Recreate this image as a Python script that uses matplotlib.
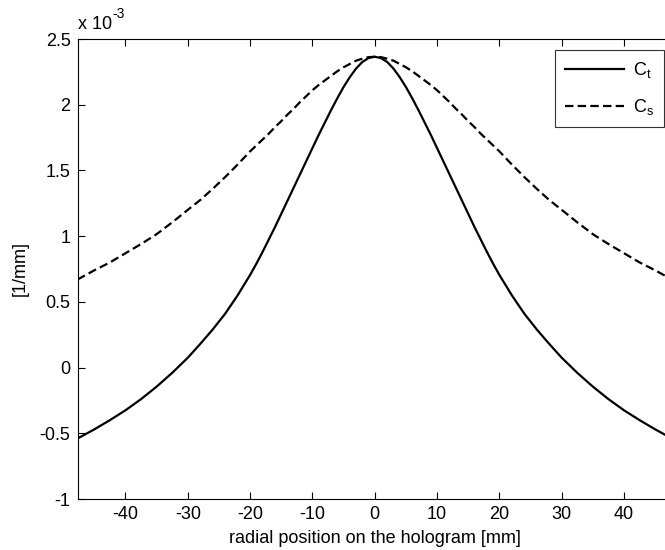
import numpy as np
import matplotlib
matplotlib.use('Agg')
import matplotlib.pyplot as plt

plt.rcParams['font.family'] = ['Liberation Sans', 'DejaVu Sans']
plt.rcParams['axes.unicode_minus'] = False
plt.rcParams['mathtext.fontset'] = 'custom'
plt.rcParams['mathtext.rm'] = 'Liberation Sans'

# radial position [mm] and curvature values [1/mm] (x 1e-3)
pos = [-47.7, -45, -42.5, -40, -37.5, -35, -32.5, -30, -28, -26, -24, -22, -20,
       -19, -18, -17, -16, -15, -14, -13, -12, -11, -10, -9, -8, -7, -6, -5, -4,
       -3, -2, -1, 0, 1, 2, 3, 4, 5, 6, 7, 8, 9, 10, 11, 12, 13, 14, 15, 16, 17,
       18, 19, 20, 22, 24, 26, 28, 30, 32.5, 35, 37.5, 40, 42.5, 45, 47.7]
c_t = [-0.54, -0.47, -0.40, -0.325, -0.24, -0.145, -0.04, 0.075, 0.18, 0.29, 0.41, 0.55, 0.705,
       0.79, 0.88, 0.975, 1.07, 1.17, 1.27, 1.37, 1.47, 1.57, 1.67, 1.77, 1.865, 1.96, 2.05, 2.135, 2.21,
       2.275, 2.325, 2.355, 2.365, 2.355, 2.325, 2.275, 2.21, 2.135, 2.05, 1.96, 1.865, 1.77, 1.67, 1.57, 1.47, 1.37, 1.27, 1.17, 1.07, 0.975,
       0.88, 0.79, 0.705, 0.55, 0.41, 0.29, 0.18, 0.075, -0.04, -0.145, -0.24, -0.325, -0.40, -0.47, -0.54]
c_s = [0.67, 0.74, 0.80, 0.87, 0.94, 1.015, 1.105, 1.20, 1.275, 1.36, 1.45, 1.545, 1.645,
       1.69, 1.735, 1.78, 1.83, 1.875, 1.925, 1.97, 2.02, 2.065, 2.11, 2.15, 2.185, 2.22, 2.255, 2.285, 2.31,
       2.335, 2.35, 2.362, 2.365, 2.362, 2.35, 2.335, 2.31, 2.285, 2.255, 2.22, 2.185, 2.15, 2.11, 2.065, 2.02, 1.97, 1.925, 1.875, 1.83, 1.78,
       1.735, 1.69, 1.645, 1.545, 1.45, 1.36, 1.275, 1.20, 1.105, 1.015, 0.94, 0.87, 0.80, 0.74, 0.67]

x = np.array(pos)
yt = np.array(c_t) * 1e-3
ys = np.array(c_s) * 1e-3

fig = plt.figure(figsize=(6.65, 5.5), dpi=100)
# axes runs a bit past the right edge of the picture (cropped like the original)
ax = fig.add_axes([77.5 / 665, 51 / 550, (672 - 77.5) / 665, (499 - 39) / 550])

ax.plot(x, yt, color='black', lw=1.6, label=r'C$_\mathrm{t}$')
ax.plot(x, ys, color='black', lw=1.6, dashes=(3.8, 1.9), label=r'C$_\mathrm{s}$')

ax.set_xlim(-47.7, 47.7)
ax.set_ylim(-1e-3, 2.5e-3)
ax.set_xticks([-40, -30, -20, -10, 0, 10, 20, 30, 40])
yticks = [-1, -0.5, 0, 0.5, 1, 1.5, 2, 2.5]
ax.set_yticks([v * 1e-3 for v in yticks])
ax.set_yticklabels(['%g' % v for v in yticks])
ax.tick_params(direction='in', top=True, right=True, length=5, labelsize=13,
               width=0.8, pad=5)
for s in ax.spines.values():
    s.set_linewidth(0.8)

# exponent label like MATLAB
ax.text(0.001, 1.014, 'x 10', transform=ax.transAxes, fontsize=13,
        ha='left', va='bottom')
ax.text(0.059, 1.040, '-3', transform=ax.transAxes, fontsize=10,
        ha='left', va='bottom')
ax.set_xlabel('radial position on the hologram [mm]', fontsize=13, labelpad=5)
ax.set_ylabel('[1/mm]', fontsize=13, labelpad=8)

leg = ax.legend(loc='upper right', bbox_to_anchor=(586 / 594.5, 0.976),
                fontsize=13, frameon=True, fancybox=False, edgecolor='black',
                handlelength=3.3, borderpad=0.55, labelspacing=0.95,
                handletextpad=0.45, borderaxespad=0)
leg.get_frame().set_linewidth(0.8)

fig.savefig('out.png', dpi=100)
